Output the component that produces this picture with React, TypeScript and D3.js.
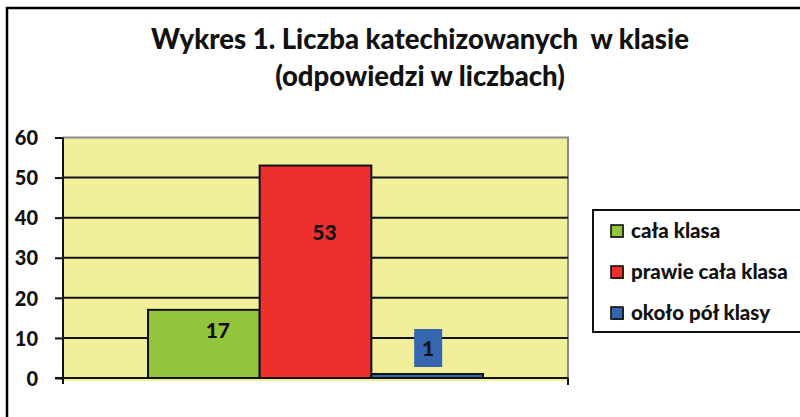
import React, { useRef, useEffect } from 'react';
import * as d3 from 'd3';

// data
const titleLines = ['Wykres 1. Liczba katechizowanych  w klasie', '(odpowiedzi w liczbach)'];
const series = ['cała klasa', 'prawie cała klasa', 'około pół klasy'];
const values = [17, 53, 1];
const colors = ['#92C43C', '#EE302D', '#3567B1'];
const yTicks = [0, 10, 20, 30, 40, 50, 60];

// hand-placed data labels in the original (offset from bar centre / bar top)
const labelShift = [
  { dx: 14, dy: 21, box: false },
  { dx: 9, dy: 67, box: false },
  { dx: 1, dy: -26, box: true },
];

const FONT = 'Lato, "Open Sans", sans-serif';

export default function App() {
  const svgRef = useRef<SVGSVGElement>(null);

  useEffect(() => {
    const width = 800;
    const height = 417;
    const svg = d3.select(svgRef.current);
    svg.selectAll('*').remove();
    svg.attr('width', width).attr('height', height);

    // outer chart frame (runs off the right and bottom edges)
    svg.append('rect')
      .attr('x', 7).attr('y', 8)
      .attr('width', 900).attr('height', 500)
      .attr('fill', '#fff')
      .attr('stroke', '#000')
      .attr('stroke-width', 2.5);

    // title
    svg.append('g').selectAll('text')
      .data(titleLines)
      .join('text')
      .attr('x', 420)
      .attr('y', (d, i) => 49 + i * 37)
      .attr('text-anchor', 'middle')
      .attr('font-family', FONT)
      .attr('font-weight', 900)
      .attr('font-size', 27.5)
      .attr('fill', '#111')
      .style('white-space', 'pre')
      .text(d => d);

    const plot = { left: 63, right: 568, top: 137.5, bottom: 378 };

    const y = d3.scaleLinear().domain([0, 60]).range([plot.bottom, plot.top]);
    const x0 = d3.scaleBand<string>()
      .domain(['']) // single category
      .range([plot.left, plot.right])
      .paddingInner(0)
      .paddingOuter(0.2537);
    const x1 = d3.scaleBand<string>()
      .domain(series)
      .range([0, x0.bandwidth()]);

    // plot area
    svg.append('rect')
      .attr('x', plot.left).attr('y', plot.top)
      .attr('width', plot.right - plot.left)
      .attr('height', plot.bottom - plot.top + 3)
      .attr('fill', '#F1EF99');

    // grey top and right borders
    svg.append('path')
      .attr('d', `M${plot.left},${plot.top}H${plot.right}V${plot.bottom}`)
      .attr('fill', 'none')
      .attr('stroke', '#8a8a8a')
      .attr('stroke-width', 2);

    // gridlines
    svg.append('g').selectAll('line')
      .data(yTicks.filter(t => t > 0 && t < 60))
      .join('line')
      .attr('x1', plot.left).attr('x2', plot.right)
      .attr('y1', d => y(d)).attr('y2', d => y(d))
      .attr('stroke', '#111')
      .attr('stroke-width', 2);

    // bars
    svg.append('g').selectAll('rect')
      .data(values)
      .join('rect')
      .attr('x', (d, i) => x0('')! + x1(series[i])!)
      .attr('y', d => y(d))
      .attr('width', x1.bandwidth())
      .attr('height', d => y(0) - y(d))
      .attr('fill', (d, i) => colors[i])
      .attr('stroke', '#111')
      .attr('stroke-width', 2);

    // y axis
    const yAxis = d3.axisLeft(y).tickValues(yTicks).tickSize(8).tickPadding(14);
    const gy = svg.append('g')
      .attr('transform', `translate(${plot.left},0)`)
      .call(yAxis);
    gy.select('.domain')
      .attr('d', `M0,${plot.top}V${plot.bottom + 6}`)
      .attr('stroke', '#111')
      .attr('stroke-width', 2);
    gy.selectAll('.tick line').attr('stroke', '#111').attr('stroke-width', 2);
    gy.selectAll('.tick text')
      .attr('x', -25)
      .attr('font-family', FONT)
      .attr('font-weight', 900)
      .attr('font-size', 20)
      .attr('fill', '#111')
      .attr('dy', '0.36em');

    // x axis
    const gx = svg.append('g')
      .attr('transform', `translate(0,${plot.bottom})`);
    gx.append('line')
      .attr('x1', plot.left - 8).attr('x2', plot.right)
      .attr('stroke', '#111').attr('stroke-width', 2);
    gx.append('line')
      .attr('x1', plot.right).attr('x2', plot.right)
      .attr('y1', 0).attr('y2', 7)
      .attr('stroke', '#111').attr('stroke-width', 2);

    // data labels
    const labels = svg.append('g').selectAll('g')
      .data(values)
      .join('g')
      .attr('transform', (d, i) => {
        const cx = x0('')! + x1(series[i])! + x1.bandwidth() / 2 + labelShift[i].dx;
        return `translate(${cx},${y(d) + labelShift[i].dy})`;
      });
    labels.filter((d, i) => labelShift[i].box)
      .append('rect')
      .attr('x', -14).attr('y', -19)
      .attr('width', 28).attr('height', 38)
      .attr('fill', (d) => colors[values.indexOf(d)]);
    labels.append('text')
      .attr('text-anchor', 'middle')
      .attr('dy', '0.36em')
      .attr('font-family', FONT)
      .attr('font-weight', 900)
      .attr('font-size', 21)
      .attr('fill', '#111')
      .text(d => d);

    // legend
    const legend = svg.append('g').attr('transform', 'translate(593,210)');
    legend.append('rect')
      .attr('width', 300).attr('height', 122)
      .attr('fill', '#fff')
      .attr('stroke', '#111')
      .attr('stroke-width', 2);
    const items = legend.selectAll('g.item')
      .data(series)
      .join('g')
      .attr('class', 'item')
      .attr('transform', (d, i) => `translate(18,${21 + i * 41})`);
    items.append('rect')
      .attr('x', 1).attr('y', -5)
      .attr('width', 12).attr('height', 12)
      .attr('fill', (d, i) => colors[i]);
    items.append('rect')
      .attr('x', 0).attr('y', -6)
      .attr('width', 12).attr('height', 12)
      .attr('fill', (d, i) => colors[i])
      .attr('stroke', '#111')
      .attr('stroke-width', 1.6);
    items.append('text')
      .attr('x', 20)
      .attr('dy', '0.36em')
      .attr('font-family', FONT)
      .attr('font-weight', 900)
      .attr('font-size', 20.5)
      .attr('fill', '#111')
      .text(d => d);
  }, []);

  return (
    <div>
      <svg ref={svgRef} style={{ position: 'absolute', left: 0, top: 0 }}></svg>
    </div>
  );
}
